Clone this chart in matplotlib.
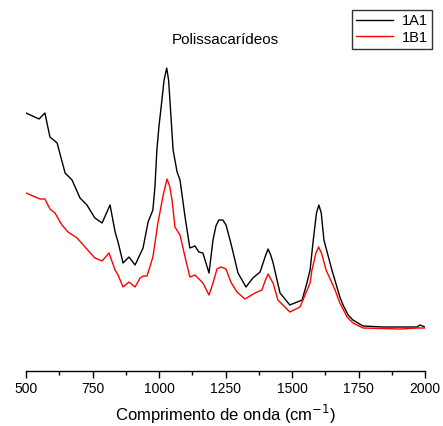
import numpy as np
import matplotlib

matplotlib.use("Agg")
import matplotlib.pyplot as plt  # noqa: E402

# wavenumber (cm-1) and intensity (arbitrary units)
wn_1a1 = [500, 549, 571, 590, 617, 624, 647, 673, 703, 729, 759, 786, 816, 835, 846,
          865, 887, 910, 940, 959, 977, 985, 992, 1000, 1011, 1019, 1029, 1036, 1041,
          1053, 1068, 1079, 1098, 1116, 1135, 1150, 1165, 1188, 1203, 1214, 1225, 1240,
          1252, 1270, 1297, 1327, 1353, 1380, 1400, 1410, 1420, 1429, 1455, 1492, 1538,
          1556, 1568, 1580, 1592, 1601, 1610, 1620, 1650, 1680, 1692, 1711, 1729, 1767,
          1842, 1970, 1981, 2000]
int_1a1 = [258, 252, 258, 234, 228, 221, 198, 191, 173, 166, 153, 148, 166, 139, 129,
           108, 114, 106, 123, 149, 161, 185, 221, 245, 271, 291, 303, 291, 271,
           221, 199, 191, 154, 123, 125, 119, 118, 98, 131, 145, 151, 151,
           146, 128, 98, 84, 93, 99, 115, 122, 116, 108, 78, 66, 71,
           88, 101, 131, 158, 166, 158, 131, 101, 74, 66, 56, 51, 45,
           44, 44, 46, 44]

wn_1b1 = [500, 526, 553, 571, 590, 609, 635, 658, 692, 722, 759, 786, 812, 835, 846,
          865, 887, 910, 929, 940, 955, 977, 996, 1015, 1030, 1040, 1049, 1060, 1079,
          1098, 1116, 1135, 1154, 1165, 1188, 1203, 1218, 1233, 1252, 1270, 1293, 1323,
          1361, 1387, 1400, 1410, 1420, 1429, 1447, 1492, 1530, 1568, 1575, 1590, 1600,
          1612, 1628, 1662, 1680, 1707, 1729, 1767, 1906, 1974, 2000]
int_1b1 = [178, 175, 172, 172, 162, 158, 146, 139, 133, 124, 113, 110, 118, 101, 96,
           84, 89, 84, 93, 95, 95, 114, 148, 175, 192, 185, 171, 144, 136,
           114, 94, 96, 91, 88, 76, 88, 102, 104, 102, 89, 79, 72,
           78, 81, 91, 97, 92, 88, 71, 59, 64, 88, 101, 118, 124,
           117, 101, 81, 68, 54, 48, 43, 42, 43, 43]

plt.rcParams.update({"font.family": ["Liberation Sans", "DejaVu Sans"], "font.size": 10})

fig = plt.figure(figsize=(4.43, 4.26), dpi=100)
ax = fig.add_axes([26 / 443, 55 / 426, 399 / 443, 371 / 426])

ax.plot(wn_1a1, int_1a1, color="black", lw=1.0, label="1A1")
ax.plot(wn_1b1, int_1b1, color="red", lw=1.0, label="1B1")

ax.set_xlim(500, 2000)
ax.set_ylim(0, 371)
ax.set_xticks(np.arange(500, 2001, 250))
ax.set_xticks(np.arange(625, 2000, 250), minor=True)
ax.tick_params(axis="x", which="major", direction="out", length=5, width=1, pad=3, labelsize=10)
ax.tick_params(axis="x", which="minor", direction="out", length=3, width=1)
ax.set_yticks([])
for s in ("top", "right", "left"):
    ax.spines[s].set_visible(False)
ax.spines["bottom"].set_linewidth(1.0)

ax.set_xlabel("Comprimento de onda (cm$^{-1}$)", fontsize=12, labelpad=5)
ax.text(0.5, (371 - 40) / 371, "Polissacarídeos", transform=ax.transAxes,
        ha="center", va="center", fontsize=11)

fig.legend(loc="upper right", bbox_to_anchor=(432 / 443, 1 - 10 / 426), frameon=True,
           fancybox=False, edgecolor="black", fontsize=10.5, handlelength=2.5,
           borderaxespad=0, borderpad=0.3, labelspacing=0.15, handletextpad=0.6)
leg = fig.legends[0]
leg.get_frame().set_linewidth(1.0)

fig.savefig("out.png", dpi=100)
